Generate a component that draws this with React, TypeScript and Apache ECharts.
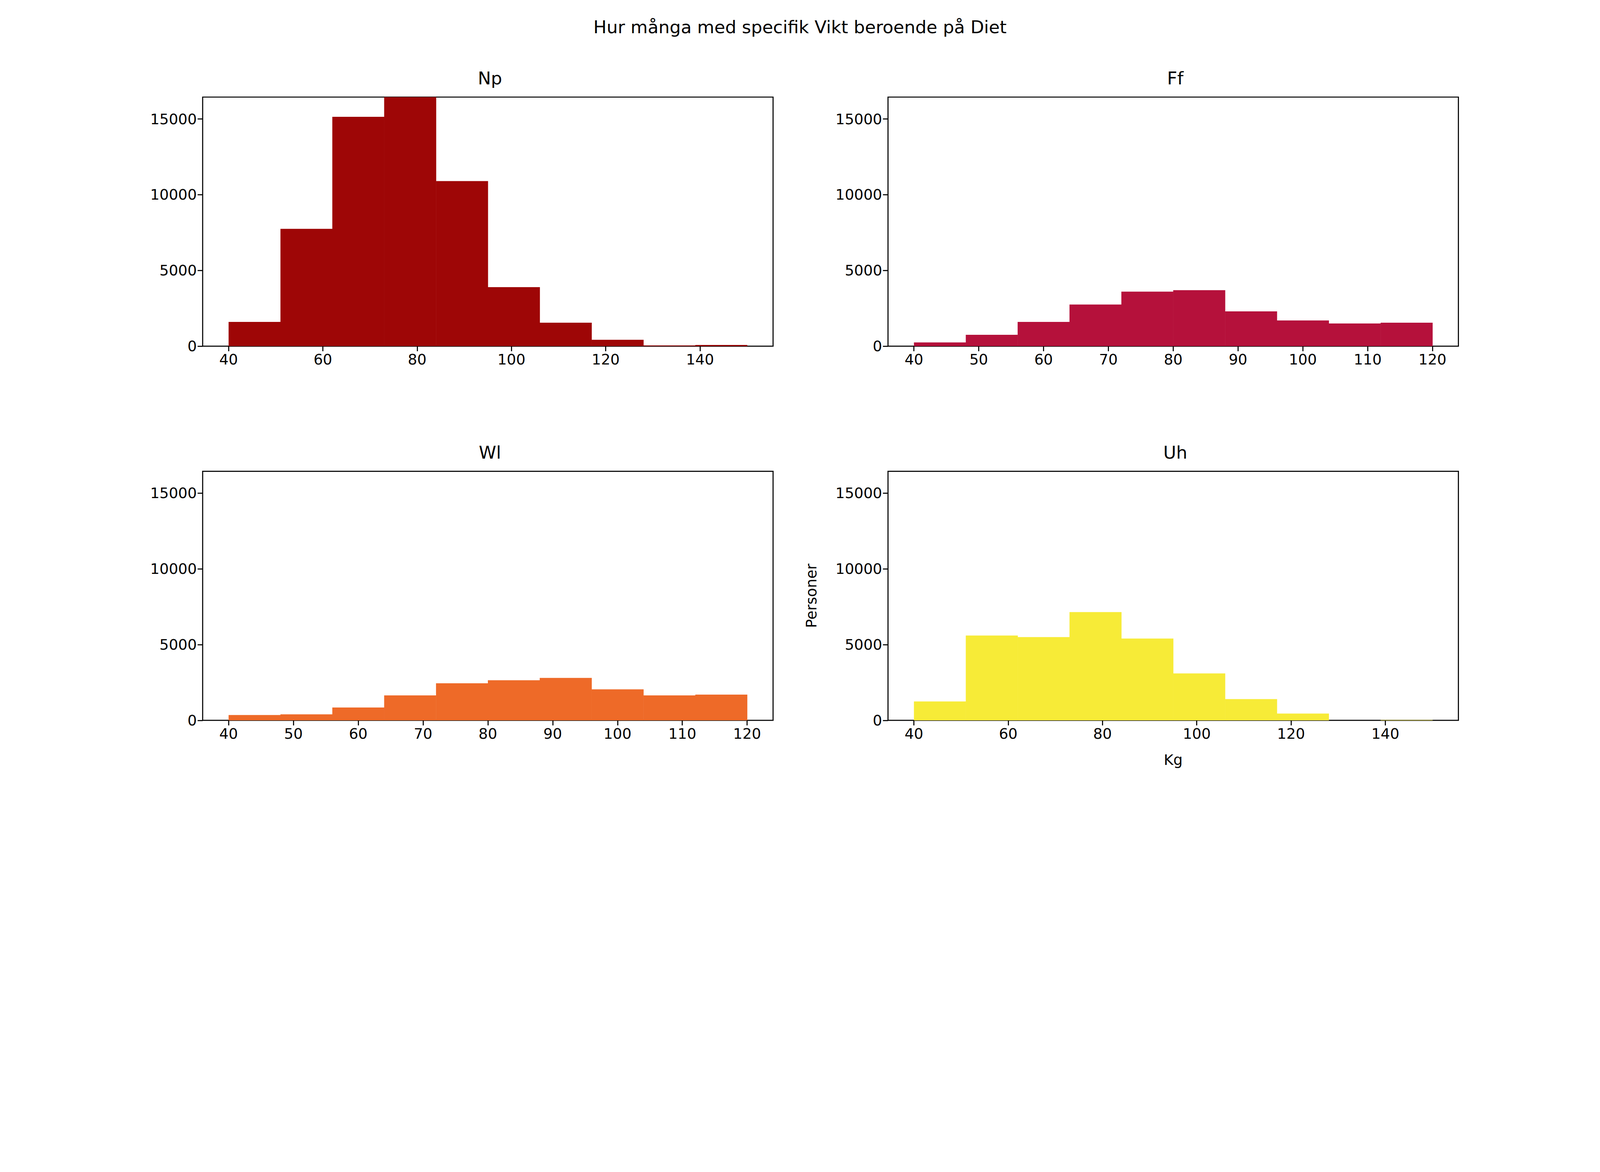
import { useEffect, useRef, useState } from "react";
import * as echarts from "echarts";

const panelNames = ["Np", "Ff", "Wl", "Uh"];
const panelColors = ["#9e0606", "#b5113b", "#ee6a28", "#f7eb37"];
const binStarts = [40, 40, 40, 40];
const binWidths = [11, 8, 8, 11];
const npCounts = [1600, 7750, 15150, 16450, 10900, 3900, 1550, 420, 50, 80];
const ffCounts = [250, 750, 1600, 2750, 3600, 3700, 2300, 1700, 1500, 1550];
const wlCounts = [350, 400, 850, 1650, 2450, 2650, 2800, 2050, 1650, 1700];
const uhCounts = [1250, 5600, 5500, 7150, 5400, 3100, 1400, 450, 0, 20];
const allCounts = [npCounts, ffCounts, wlCounts, uhCounts];
const xTicksWide = [40, 60, 80, 100, 120, 140];
const xTicksNarrow = [40, 50, 60, 70, 80, 90, 100, 110, 120];
const yTicks = [0, 5000, 10000, 15000];
const yMax = 16450;

const FONT = "DejaVu Sans";

export default function App() {
  const ref = useRef<HTMLDivElement | null>(null);
  const [size] = useState(() => {
    document.body.style.margin = "0";
    const w = window.innerWidth || 6000;
    const h = window.innerHeight || 3000;
    const width = Math.min(w, h * 2);
    return { w: width, h: width / 2 };
  });

  useEffect(() => {
    if (!ref.current) return;
    const s = size.w / 6000;
    const chart = echarts.init(ref.current, null, { renderer: "svg" });

    const lefts = [760, 3330, 760, 3330];
    const tops = [364, 364, 1767, 1767];
    const grid = lefts.map((l, i) => ({
      left: l * s, top: tops[i] * s, width: 2139 * s, height: 934 * s,
      show: true, borderColor: "#000", borderWidth: 4 * s, backgroundColor: "transparent",
    }));

    const txt = { color: "#000", fontSize: 55 * s, fontFamily: FONT };
    const tick = { show: true, length: 19 * s, lineStyle: { color: "#000", width: 4 * s } };

    const xAxis = allCounts.map((c, i) => {
      const lo = binStarts[i];
      const hi = lo + binWidths[i] * c.length;
      const pad = (hi - lo) * 0.05;
      const ticks = binWidths[i] === 11 ? xTicksWide : xTicksNarrow;
      return {
        type: "value", gridIndex: i, min: lo - pad, max: hi + pad,
        splitLine: { show: false },
        axisLine: { show: false },
        axisTick: { ...tick, customValues: ticks },
        axisLabel: { ...txt, margin: 22 * s, customValues: ticks, formatter: (v: number) => String(v) },
        name: i === 3 ? "Kg" : "",
        nameLocation: "middle", nameGap: 120 * s,
        nameTextStyle: txt,
      };
    });

    const yAxis = allCounts.map((_, i) => ({
      type: "value", gridIndex: i, min: 0, max: yMax,
      splitLine: { show: false },
      axisLine: { show: false },
      axisTick: { ...tick, customValues: yTicks },
      axisLabel: { ...txt, margin: 22 * s, customValues: yTicks, formatter: (v: number) => String(v) },
      name: i === 3 ? "Personer" : "",
      nameLocation: "middle", nameGap: 260 * s, nameRotate: 90,
      nameTextStyle: txt,
    }));

    const series = allCounts.map((c, i) => ({
      type: "custom", xAxisIndex: i, yAxisIndex: i,
      data: c.map((v, k) => [binStarts[i] + k * binWidths[i], binStarts[i] + (k + 1) * binWidths[i], v]),
      renderItem: (_p: any, api: any) => {
        const a = api.coord([api.value(0), api.value(2)]);
        const b = api.coord([api.value(1), 0]);
        return {
          type: "rect",
          shape: { x: a[0], y: a[1], width: b[0] - a[0] + 0.5, height: b[1] - a[1] },
          style: { fill: panelColors[i] },
        };
      },
    }));

    const titleStyle = { fontSize: 66 * s, fontWeight: "normal", color: "#000", fontFamily: FONT };
    const titles = [
      { text: "Hur många med specifik Vikt beroende på Diet", left: "center", top: 62 * s, textStyle: titleStyle },
      ...panelNames.map((n, i) => ({
        text: n, left: (lefts[i] + 1070) * s, top: (tops[i] - 110) * s, textAlign: "center",
        textStyle: titleStyle,
      })),
    ];

    chart.setOption({
      animation: false,
      backgroundColor: "#fff",
      title: titles,
      grid, xAxis, yAxis, series,
    } as any);
    return () => chart.dispose();
  }, [size]);

  return <div ref={ref} style={{ width: size.w, height: size.h }} />;
}
